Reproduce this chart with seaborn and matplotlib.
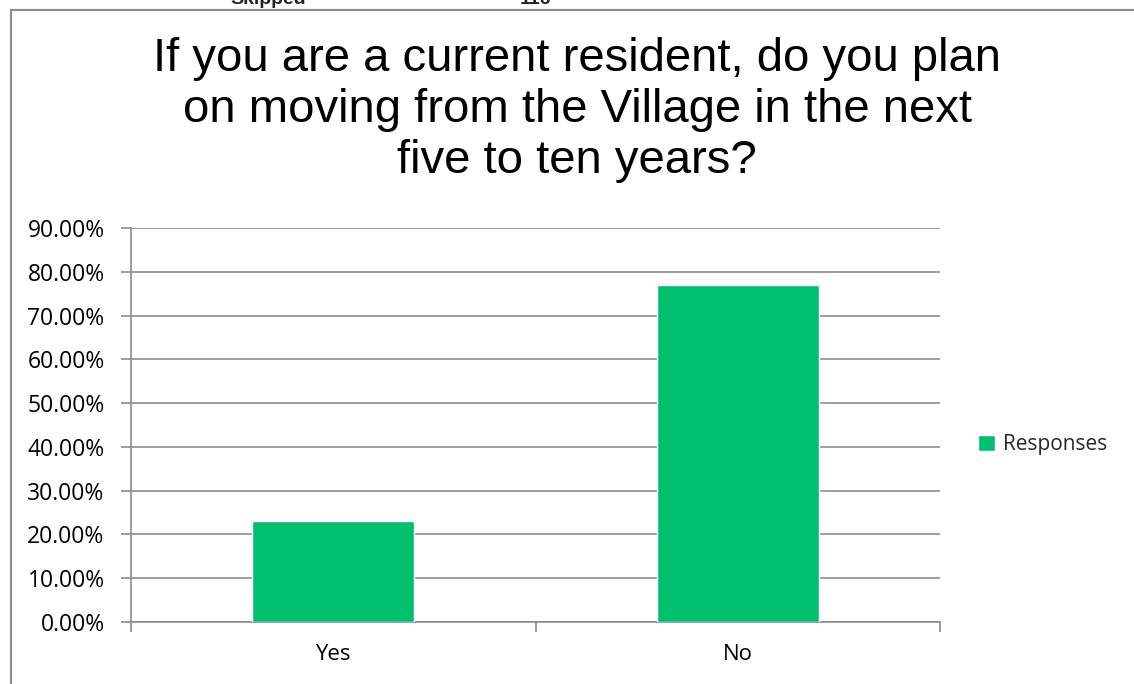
import matplotlib
matplotlib.use('Agg')
import matplotlib.pyplot as plt
import seaborn as sns
import pandas as pd
from matplotlib.patches import Rectangle, Patch
from matplotlib.ticker import FuncFormatter, MultipleLocator, FixedLocator

# Data
answers = ['Yes', 'No']
responses = [0.23, 0.77]
series_name = 'Responses'

df = pd.DataFrame({'answer': answers, 'share': responses})

sns.set_theme(style='white')
plt.rcParams['font.family'] = ['Open Sans', 'DejaVu Sans']

fig = plt.figure(figsize=(11.34, 6.84), dpi=100)
ax = fig.add_axes([131 / 1134, 62 / 684, 809 / 1134, 394 / 684])

green = '#00BF6F'
sns.barplot(data=df, x='answer', y='share', color=green, width=0.4,
            saturation=1, ax=ax, zorder=3)

ax.set_ylim(0, 0.9)
ax.set_xlim(-0.5, 1.5)
ax.yaxis.set_major_locator(MultipleLocator(0.1))
ax.yaxis.set_major_formatter(FuncFormatter(lambda v, p: f'{v * 100:.2f}%'))
ax.grid(axis='y', color='#8c8c8c', linewidth=1.2, zorder=0)
ax.set_axisbelow(True)
ax.set_xlabel('')
ax.set_ylabel('')

for s in ['top', 'right']:
    ax.spines[s].set_visible(False)
for s in ['left', 'bottom']:
    ax.spines[s].set_color('#8c8c8c')
    ax.spines[s].set_linewidth(1.2)

ax.tick_params(axis='y', left=True, length=7, width=1.2, color='#8c8c8c',
               labelsize=16.5, pad=12, labelcolor='black')
ax.tick_params(axis='x', which='major', length=0, labelsize=16, pad=16,
               labelcolor='black')
ax.xaxis.set_minor_locator(FixedLocator([-0.5, 0.5, 1.5]))
ax.tick_params(axis='x', which='minor', bottom=True, length=7, width=1.2,
               color='#8c8c8c')

fig.text(577 / 1134, 1 - 110 / 684,
         'If you are a current resident, do you plan\n'
         'on moving from the Village in the next\n'
         'five to ten years?',
         ha='center', va='center', fontsize=34, linespacing=1.2,
         color='black', family=['Liberation Sans', 'DejaVu Sans'])

ax.legend(handles=[Patch(facecolor=green, label=series_name)],
          loc='center left', bbox_to_anchor=(1.024, 0.45), frameon=False,
          fontsize=15, handlelength=0.8, handleheight=0.8,
          handletextpad=0.4)

# chart frame (cut off on the right and bottom)
fig.add_artist(Rectangle((11 / 1134, -0.1), 1.2, 1 - 10 / 684 + 0.1,
                         transform=fig.transFigure, fill=False,
                         edgecolor='#8c8c8c', linewidth=1.5))

# clipped text from the table above
fig.text(230 / 1134, 1 - 4 / 684, 'Skipped', fontweight='bold', fontsize=14,
         va='baseline', family=['Liberation Sans', 'DejaVu Sans'], color='#222222')
fig.text(520 / 1134, 1 - 4 / 684, '116', fontweight='bold', fontsize=14,
         va='baseline', family=['Liberation Sans', 'DejaVu Sans'], color='#222222')

fig.savefig('out.png', dpi=100)
